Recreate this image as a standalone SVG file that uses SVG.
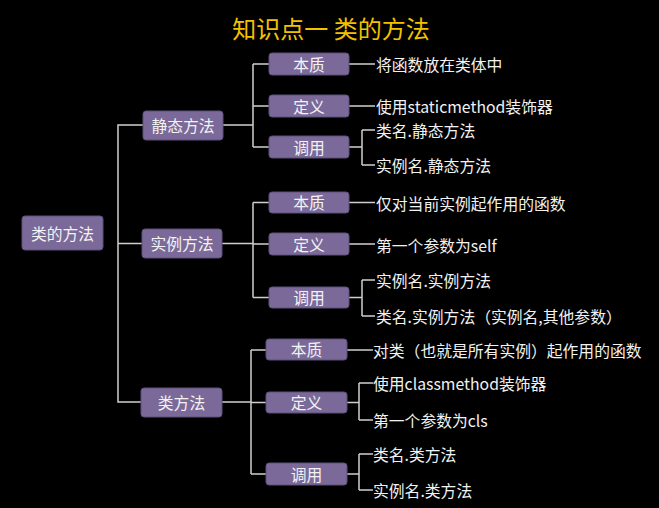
<svg xmlns="http://www.w3.org/2000/svg" width="659" height="508" viewBox="0 0 659 508">
<style>
.n{fill:#7b6a99;stroke:#5d4e7a;stroke-width:1}
.t{font-family:"Noto Sans CJK SC","Noto Sans",sans-serif;font-size:15.8px;fill:#f2f2f2;dominant-baseline:central}
.c{text-anchor:middle}
.l{fill:none;stroke:#cfcfcf;stroke-width:1.5}
.title{font-family:"Noto Sans CJK SC","Noto Sans",sans-serif;font-size:24px;fill:#f2c200;text-anchor:middle}
</style>
<rect width="659" height="508" fill="#000"/>
<text class="title" x="331" y="38">知识点一 类的方法</text>
<g id="connectors" class="l">
<path d="M143,125 H118 V402 H141 M118,243.5 H142"/>
<path d="M223,125 H253 M253,64 V147 M253,64 H269 M253,106 H269 M253,147 H269"/>
<path d="M349,64 H375 M349,106 H375 M349,147 H362 M362,130 V165 M362,130 H375 M362,165 H375"/>
<path d="M222,243.5 H253 M253,202.5 V297.5 M253,202.5 H269 M253,244 H269 M253,297.5 H269"/>
<path d="M349,202.5 H375 M349,244 H375 M349,297.5 H362 M362,280 V316 M362,280 H375 M362,316 H375"/>
<path d="M222,402 H251 M251,350 V474 M251,350 H266 M251,402.5 H266 M251,474 H266"/>
<path d="M347,350 H373 M347,402.5 H359 M359,383 V420 M359,383 H373 M359,420 H373 M347,474 H359 M359,454 V490 M359,454 H373 M359,490 H373"/>
</g>
<g id="root"><rect class="n" x="22" y="216" width="81" height="34" rx="3"/><text class="t c" x="62.5" y="233">类的方法</text></g>
<g id="static"><rect class="n" x="143" y="111" width="80" height="29" rx="3"/><text class="t c" x="183" y="125.5">静态方法</text></g>
<g id="instance"><rect class="n" x="142" y="229" width="80" height="29" rx="3"/><text class="t c" x="182" y="243.5">实例方法</text></g>
<g id="classm"><rect class="n" x="141" y="388" width="81" height="29" rx="3"/><text class="t c" x="181.5" y="402.5">类方法</text></g>
<g id="s-essence"><rect class="n" x="269" y="53" width="80" height="22" rx="3"/><text class="t c" x="309" y="64">本质</text></g>
<g id="s-def"><rect class="n" x="269" y="95" width="80" height="22" rx="3"/><text class="t c" x="309" y="106">定义</text></g>
<g id="s-call"><rect class="n" x="269" y="136" width="80" height="22" rx="3"/><text class="t c" x="309" y="147">调用</text></g>
<g id="i-essence"><rect class="n" x="269" y="192" width="80" height="21" rx="3"/><text class="t c" x="309" y="202.5">本质</text></g>
<g id="i-def"><rect class="n" x="269" y="233" width="80" height="22" rx="3"/><text class="t c" x="309" y="244">定义</text></g>
<g id="i-call"><rect class="n" x="269" y="287" width="80" height="21" rx="3"/><text class="t c" x="309" y="297.5">调用</text></g>
<g id="c-essence"><rect class="n" x="266" y="339" width="81" height="21" rx="3"/><text class="t c" x="306.5" y="349.5">本质</text></g>
<g id="c-def"><rect class="n" x="266" y="392" width="81" height="21" rx="3"/><text class="t c" x="306.5" y="402.5">定义</text></g>
<g id="c-call"><rect class="n" x="266" y="463" width="81" height="22" rx="3"/><text class="t c" x="306.5" y="474">调用</text></g>
<g id="leaves">
<text class="t" x="376" y="64">将函数放在类体中</text>
<text class="t" x="376" y="106">使用staticmethod装饰器</text>
<text class="t" x="376" y="130">类名.静态方法</text>
<text class="t" x="376" y="165">实例名.静态方法</text>
<text class="t" x="376" y="203">仅对当前实例起作用的函数</text>
<text class="t" x="376" y="245">第一个参数为self</text>
<text class="t" x="376" y="280">实例名.实例方法</text>
<text class="t" x="376" y="316">类名.实例方法（实例名,其他参数）</text>
<text class="t" x="373" y="350">对类（也就是所有实例）起作用的函数</text>
<text class="t" x="373" y="383">使用classmethod装饰器</text>
<text class="t" x="373" y="420">第一个参数为cls</text>
<text class="t" x="373" y="454">类名.类方法</text>
<text class="t" x="373" y="490">实例名.类方法</text>
</g>
</svg>
